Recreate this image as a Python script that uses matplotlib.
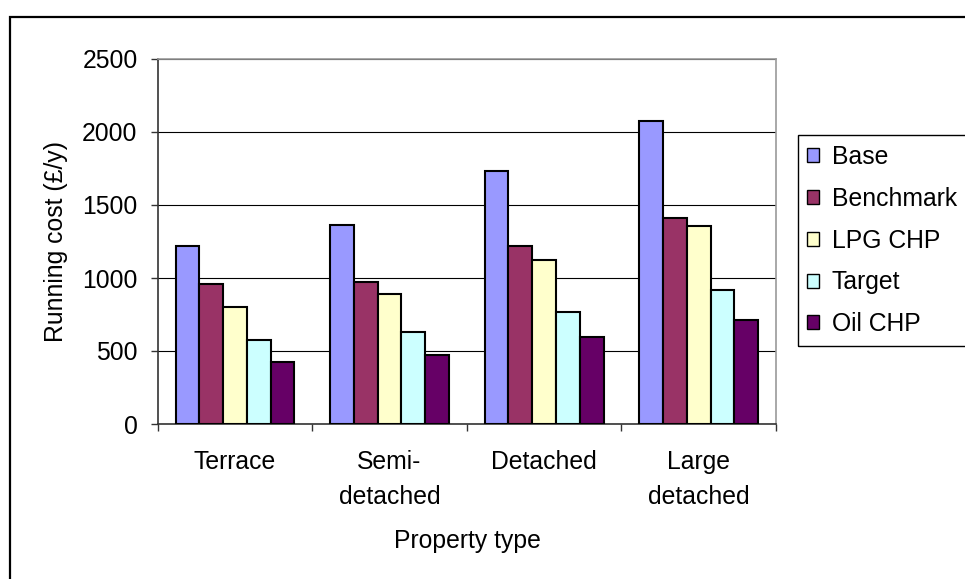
import matplotlib
matplotlib.use("Agg")
import matplotlib.pyplot as plt
from matplotlib.patches import Rectangle
import numpy as np

plt.rcParams['font.family'] = ['Liberation Sans', 'DejaVu Sans']

categories = ["Terrace", "Semi-\ndetached", "Detached", "Large\ndetached"]
series_names = ["Base", "Benchmark", "LPG CHP", "Target", "Oil CHP"]
base = [1220, 1360, 1730, 2075]
benchmark = [960, 975, 1222, 1412]
lpg_chp = [800, 893, 1126, 1359]
target = [577, 632, 767, 920]
oil_chp = [427, 470, 593, 712]
series_values = [base, benchmark, lpg_chp, target, oil_chp]
colors = ["#9999FF", "#993366", "#FFFFCC", "#CCFFFF", "#660066"]
y_ticks = [0, 500, 1000, 1500, 2000, 2500]

FS = 17.8
W, H = 965, 579
fig = plt.figure(figsize=(W / 100, H / 100), dpi=100)
fig.patch.set_facecolor("white")

# plot area in pixel coordinates
px_left, px_right, px_top, px_bottom = 157.7, 776, 59, 424
ax = fig.add_axes([px_left / W, 1 - px_bottom / H,
                   (px_right - px_left) / W, (px_bottom - px_top) / H])

x = np.arange(len(categories))
bar_w = 1 / 6.5
for i, (name, vals, col) in enumerate(zip(series_names, series_values, colors)):
    ax.bar(x + (i - 2) * bar_w, vals, width=bar_w, color=col,
           edgecolor="black", linewidth=1.5, label=name, zorder=3)

ax.set_xlim(-0.5, len(categories) - 0.5)
ax.set_ylim(0, 2500)
ax.set_yticks(y_ticks)
ax.set_yticklabels([str(v) for v in y_ticks], fontsize=FS)
ax.yaxis.grid(True, color="black", linewidth=0.8, zorder=0)
ax.set_axisbelow(True)

# category boundary ticks, labels at category centers
ax.set_xticks(np.arange(-0.5, len(categories), 1.0))
ax.set_xticklabels([])
ax.set_xticks(x, minor=True)
ax.set_xticklabels(categories, minor=True, fontsize=FS, linespacing=1.55)
ax.tick_params(axis="x", which="minor", length=0, pad=19)
ax.tick_params(axis="x", which="major", length=5, width=1, color="#333333")
ax.tick_params(axis="y", which="major", length=5, width=1, color="#333333", pad=9.5)

for s in ["top", "right"]:
    ax.spines[s].set_color("#999999")
    ax.spines[s].set_linewidth(1.2)
for s in ["left", "bottom"]:
    ax.spines[s].set_color("#333333")
    ax.spines[s].set_linewidth(1.2)

ax.set_ylabel("Running cost (£/y)", fontsize=FS, labelpad=10)
fig.text(467 / W, 1 - 541 / H, "Property type", fontsize=FS,
         ha="center", va="center")

# legend with its own frame
leg = fig.legend(loc="upper left", bbox_to_anchor=(807 / W, 1 - 145 / H),
                 frameon=False, fontsize=FS, handlelength=0.5,
                 handleheight=0.5, handletextpad=0.5, labelspacing=0.72,
                 borderaxespad=0, borderpad=0)
for h in leg.legend_handles:
    h.set_linewidth(1.0)
fig.add_artist(Rectangle((798 / W, 1 - 346 / H), (W + 20 - 798) / W,
                         (346 - 135) / H, transform=fig.transFigure,
                         fill=False, edgecolor="black", linewidth=1.0))

# outer chart frame
fig.add_artist(Rectangle((10 / W, -0.05), (W + 20) / W, 1.05 - 17 / H,
                         transform=fig.transFigure, fill=False,
                         edgecolor="black", linewidth=1.6))

fig.savefig("out.png", dpi=100)
